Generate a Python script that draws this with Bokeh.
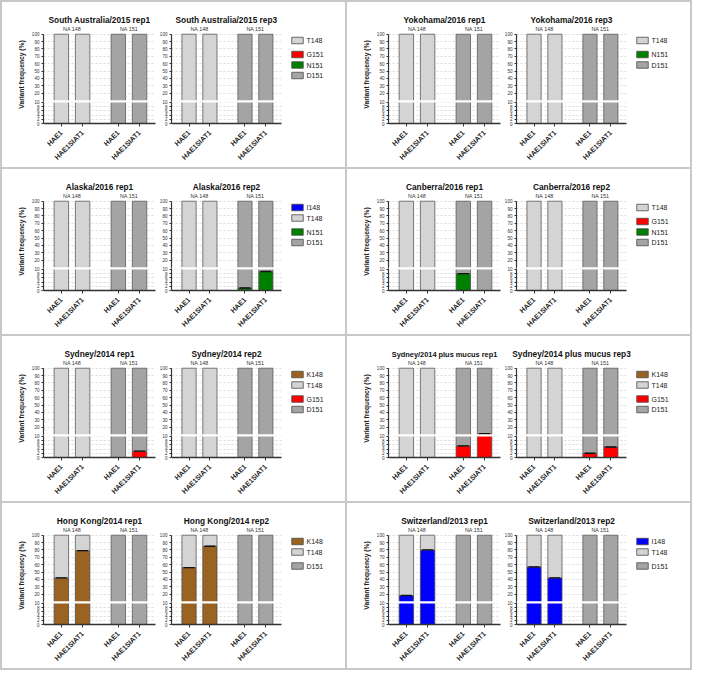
from math import pi
from bokeh.plotting import figure
from bokeh.layouts import row, column
from bokeh.models import ColumnDataSource, FixedTicker, Span
from bokeh.core.properties import value
from bokeh.embed import file_html
from bokeh.resources import INLINE

# ---------------- data ----------------
conditions = ["HAE1", "HAE1SIAT1"]
sites = ["NA 148", "NA 151"]
y_tick_values = [0, 2, 4, 6, 8, 10, 20, 30, 40, 50, 60, 70, 80, 90, 100]

# mutant variant frequencies (%) for [HAE1, HAE1SIAT1]; wild type (T148 / D151) is the remainder
sa2015_rep1_151 = {"G151": [0, 0], "N151": [0, 0]}
sa2015_rep3_151 = {"G151": [0, 0], "N151": [0, 0]}
yk2016_rep1_151 = {"N151": [0, 0]}
yk2016_rep3_151 = {"N151": [0, 0]}
ak2016_rep1_148 = {"I148": [0, 0]}
ak2016_rep1_151 = {"N151": [0, 0]}
ak2016_rep2_148 = {"I148": [0, 0]}
ak2016_rep2_151 = {"N151": [1.2, 9]}
cb2016_rep1_151 = {"G151": [0, 0], "N151": [8, 0]}
cb2016_rep2_151 = {"G151": [0, 0], "N151": [0, 0]}
sy2014_rep1_148 = {"K148": [0, 0]}
sy2014_rep1_151 = {"G151": [0, 3]}
sy2014_rep2_148 = {"K148": [0, 0]}
sy2014_rep2_151 = {"G151": [0, 0]}
sym2014_rep1_148 = {"K148": [0, 0]}
sym2014_rep1_151 = {"G151": [5.5, 11]}
sym2014_rep3_148 = {"K148": [0, 0]}
sym2014_rep3_151 = {"G151": [2, 5]}
hk2014_rep1_148 = {"K148": [42, 79]}
hk2014_rep2_148 = {"K148": [56, 85]}
sw2013_rep1_148 = {"I148": [18, 80]}
sw2013_rep2_148 = {"I148": [57, 42]}

boxes = [
    (["T148"], ["G151", "N151", "D151"],
     [("South Australia/2015 rep1", {}, sa2015_rep1_151),
      ("South Australia/2015 rep3", {}, sa2015_rep3_151)]),
    (["T148"], ["N151", "D151"],
     [("Yokohama/2016 rep1", {}, yk2016_rep1_151),
      ("Yokohama/2016 rep3", {}, yk2016_rep3_151)]),
    (["I148", "T148"], ["N151", "D151"],
     [("Alaska/2016 rep1", ak2016_rep1_148, ak2016_rep1_151),
      ("Alaska/2016 rep2", ak2016_rep2_148, ak2016_rep2_151)]),
    (["T148"], ["G151", "N151", "D151"],
     [("Canberra/2016 rep1", {}, cb2016_rep1_151),
      ("Canberra/2016 rep2", {}, cb2016_rep2_151)]),
    (["K148", "T148"], ["G151", "D151"],
     [("Sydney/2014 rep1", sy2014_rep1_148, sy2014_rep1_151),
      ("Sydney/2014 rep2", sy2014_rep2_148, sy2014_rep2_151)]),
    (["K148", "T148"], ["G151", "D151"],
     [("Sydney/2014 plus mucus rep1", sym2014_rep1_148, sym2014_rep1_151),
      ("Sydney/2014 plus mucus rep3", sym2014_rep3_148, sym2014_rep3_151)]),
    (["K148", "T148"], ["D151"],
     [("Hong Kong/2014 rep1", hk2014_rep1_148, {}),
      ("Hong Kong/2014 rep2", hk2014_rep2_148, {})]),
    (["I148", "T148"], ["D151"],
     [("Switzerland/2013 rep1", sw2013_rep1_148, {}),
      ("Switzerland/2013 rep2", sw2013_rep2_148, {})]),
]

colors = {"T148": "#d4d4d4", "D151": "#a4a4a4", "G151": "#ff0000",
          "N151": "#008000", "I148": "#0000ff", "K148": "#9a6322"}

# ---------------- layout / style ----------------
FONT = "Liberation Sans"
XPOS = [0.0, 1.0, 2.68, 3.68]
BAR_W = 0.68
LOW, GAP = 2.2, 2.0
HIGH = (92.94 - (10 * LOW + GAP)) / 90.0
BOX_W = 343
BOX_H = 165
TOP_B, BOT_B = 23, 44
FRAME_W = 112
TITLE_SIZES = {"Sydney/2014 plus mucus rep1": "7.4px", "Sydney/2014 plus mucus rep3": "8.3px"}


def ty(v):
    """broken axis: 0-10 expanded lower segment, 10-100 compressed upper segment"""
    if v <= 10:
        return round(v * LOW, 4)
    return round(10 * LOW + GAP + (v - 10) * HIGH, 4)


BREAK_T = 10 * LOW + GAP / 2
TOP_T = ty(100)


def make_panel(title, mut148, mut151, first):
    left = 41 if first else 13
    right = 1 if first else 6
    p = figure(width=left + FRAME_W + right, height=BOX_H, x_range=(-0.84, 4.43), y_range=(0, 102),
               output_backend="svg", toolbar_location=None, title=title,
               min_border_left=left, min_border_right=right, min_border_top=TOP_B,
               min_border_bottom=BOT_B)
    p.outline_line_color = None
    p.background_fill_color = "white"
    p.title.text_font = FONT
    p.title.text_font_size = TITLE_SIZES.get(title, "8.3px")
    p.title.text_font_style = "bold"
    p.title.align = "center"
    p.title.text_color = "#111111"
    p.title.standoff = 2

    yt = [ty(v) for v in y_tick_values]
    p.yaxis.ticker = FixedTicker(ticks=yt)
    p.yaxis.major_label_overrides = {t: str(v) for t, v in zip(yt, y_tick_values)}
    p.yaxis.bounds = (0, TOP_T)
    p.yaxis.major_label_text_font = FONT
    p.yaxis.major_label_text_font_size = "4.6px"
    p.yaxis.major_label_text_color = "#333333"
    p.yaxis.major_tick_out = 2
    p.yaxis.major_tick_in = 0
    p.yaxis.major_label_standoff = 2
    p.yaxis.minor_tick_line_color = None
    p.yaxis.axis_line_color = "#333333"
    p.yaxis.axis_line_width = 1.2
    p.yaxis.major_tick_line_color = "#333333"
    if first:
        p.yaxis.axis_label = "Variant frequency (%)"
        p.yaxis.axis_label_text_font = FONT
        p.yaxis.axis_label_text_font_size = "6.7px"
        p.yaxis.axis_label_text_font_style = "bold"
        p.yaxis.axis_label_text_color = "#222222"
        p.yaxis.axis_label_standoff = 4

    p.xaxis.ticker = FixedTicker(ticks=XPOS)
    p.xaxis.major_label_overrides = {x: conditions[i % 2] for i, x in enumerate(XPOS)}
    p.xaxis.major_label_orientation = pi / 4
    p.xaxis.major_label_text_font = FONT
    p.xaxis.major_label_text_font_size = "7px"
    p.xaxis.major_label_text_font_style = "bold"
    p.xaxis.major_label_text_color = "#222222"
    p.xaxis.major_tick_out = 3
    p.xaxis.major_tick_in = 0
    p.xaxis.minor_tick_line_color = None
    p.xaxis.axis_line_color = "#333333"
    p.xaxis.axis_line_width = 1.5
    p.xaxis.major_tick_line_color = "#333333"

    p.xgrid.visible = False
    p.ygrid.ticker = FixedTicker(ticks=yt[1:])
    p.ygrid.grid_line_color = "#d2d2d2"
    p.ygrid.grid_line_dash = "2 2"
    p.ygrid.grid_line_width = 0.8

    caps = {"x0": [], "x1": [], "y": []}
    for s_idx, (muts, wt) in enumerate([(mut148, "T148"), (mut151, "D151")]):
        xs = XPOS[2 * s_idx:2 * s_idx + 2]
        bottom = [0.0, 0.0]
        for name, vals in muts.items():
            if max(vals) <= 0:
                continue
            top = [b + v for b, v in zip(bottom, vals)]
            src = ColumnDataSource(dict(x=xs, bottom=[ty(b) for b in bottom], top=[ty(t) for t in top]))
            p.vbar(x="x", width=BAR_W, bottom="bottom", top="top", source=src,
                   fill_color=colors[name], line_color="#4a4a4a", line_width=0.8)
            for x, v, t in zip(xs, vals, top):
                if v > 0:
                    caps["x0"].append(x - 0.26)
                    caps["x1"].append(x + 0.26)
                    caps["y"].append(ty(t))
            bottom = top
        src = ColumnDataSource(dict(x=xs, bottom=[ty(b) for b in bottom], top=[ty(100)] * 2))
        p.vbar(x="x", width=BAR_W, bottom="bottom", top="top", source=src,
               fill_color=colors[wt], line_color="#5a5a5a", line_width=0.8)
    if caps["y"]:
        csrc = ColumnDataSource(caps)
        p.segment(x0="x0", y0="y", x1="x1", y1="y", source=csrc, line_color="#111111", line_width=1.4)

    p.add_layout(Span(location=BREAK_T, dimension="width", line_color="white", line_width=2.2))

    lab = ColumnDataSource(dict(x=[(XPOS[0] + XPOS[1]) / 2, (XPOS[2] + XPOS[3]) / 2],
                                y=[TOP_T + 5, TOP_T + 5], t=sites))
    p.text(x="x", y="y", text="t", source=lab, text_font=value(FONT), text_font_size="5.4px",
           text_align="center", text_baseline="middle", text_color="#333333")
    return p


def make_legend(items148, items151, width):
    # frames in a row are aligned, so the legend frame spans the same rows as the panels' frames
    p = figure(width=width, height=BOX_H, x_range=(0, width), y_range=(BOX_H - BOT_B, TOP_B),
               output_backend="svg", toolbar_location=None, min_border=0,
               min_border_top=TOP_B, min_border_bottom=BOT_B,
               x_axis_location=None, y_axis_location=None)
    p.grid.visible = False
    p.outline_line_color = None
    names, ys = [], []
    y = 38.0
    for n in items148:
        names.append(n)
        ys.append(y)
        y += 10.5
    y += 3.5
    for n in items151:
        names.append(n)
        ys.append(y)
        y += 10.5
    src = ColumnDataSource(dict(n=names, y=ys, c=[colors[n] for n in names], x=[10.0] * len(names),
                                tx=[19.0] * len(names)))
    p.rect(x="x", y="y", width=11.5, height=6.5, source=src, fill_color="c",
           line_color="#4a4a4a", line_width=0.8)
    p.text(x="tx", y="y", text="n", source=src, text_font=value(FONT), text_font_size="7px",
           text_baseline="middle", text_align="left", text_color="#222222")
    return p


box_layouts = []
for items148, items151, panels in boxes:
    f1 = make_panel(panels[0][0], panels[0][1], panels[0][2], True)
    f2 = make_panel(panels[1][0], panels[1][1], panels[1][2], False)
    fl = make_legend(items148, items151, BOX_W - f1.width - f2.width)
    box_layouts.append(row(f1, f2, fl, spacing=0, styles={"background-color": "white"}))

rows = [row(box_layouts[2 * i], box_layouts[2 * i + 1], spacing=2) for i in range(4)]
root = column(*rows, spacing=2, styles={"background-color": "#c8c8c8", "padding": "2px"})

open("out.html", "w").write(file_html(root, INLINE))
